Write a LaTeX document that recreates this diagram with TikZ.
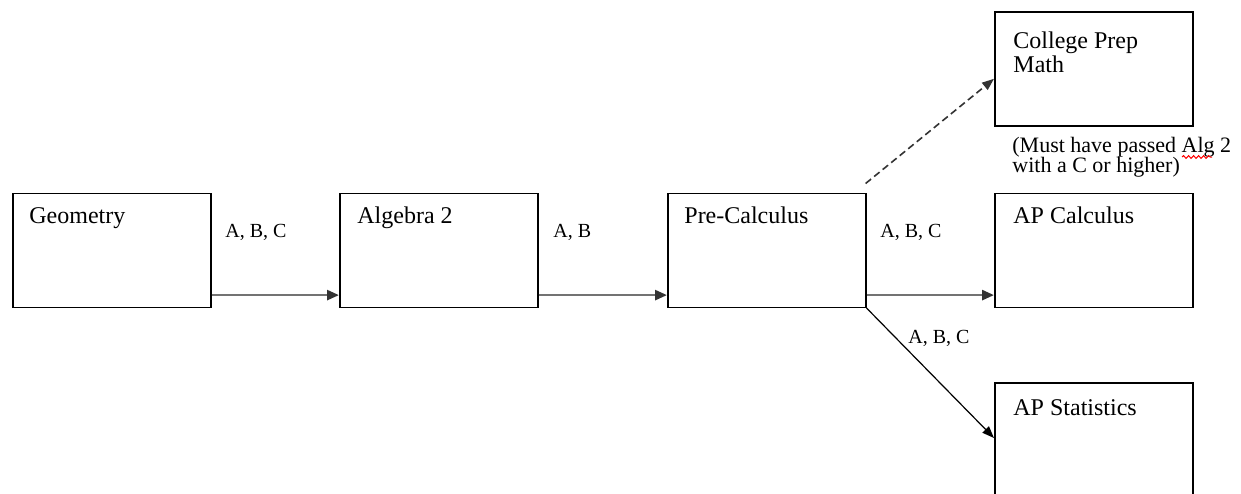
\documentclass[tikz,border=0pt]{standalone}
\usepackage{fontspec}
\setmainfont{Liberation Serif}
\usetikzlibrary{arrows.meta,decorations.pathmorphing}
\begin{document}
\begin{tikzpicture}[x=0.5pt,y=-0.5pt,
  box/.style={draw=black,line width=0.8pt,minimum width=99pt,minimum height=57pt,anchor=north west,inner sep=0pt},
  boxtext/.style={anchor=base west,inner sep=0pt,font=\fontsize{12}{13}\selectfont},
  edgelabel/.style={anchor=base west,inner sep=0pt,font=\fontsize{10}{12}\selectfont},
  notetext/.style={anchor=base west,inner sep=0pt,font=\fontsize{11}{11}\selectfont},
  hflow/.style={draw=black!55,line width=1.3pt,-{Triangle[length=6pt,width=5pt,fill=black!80,color=black!80]}},
  dflow/.style={draw=black,line width=0.6pt,-{Triangle[length=6pt,width=4.5pt]}},
  dashflow/.style={draw=black!80,line width=0.8pt,dash pattern=on 3.5pt off 2pt,-{Triangle[length=6pt,width=4.5pt]}}
]
\clip (0,0) rectangle (1241,493);
\useasboundingbox (0,0) rectangle (1241,493);
\fill[white] (0,0) rectangle (1241,493);

% boxes
\node[box] (geo) at (12,192.5) {};
\node[box] (alg) at (339,192.5) {};
\node[box] (pre) at (667,192.5) {};
\node[box] (col) at (994,11) {};
\node[box] (apc) at (994,192.5) {};
\node[box,minimum height=80pt] (aps) at (994,382) {};

% box texts
\node[boxtext] (geot) at (29,223) {Geometry};
\node[boxtext] (algt) at (357,223) {Algebra 2};
\node[boxtext] (pret) at (684,223) {Pre-Calculus};
\node[boxtext] (colt) at (1013,48) {College Prep};
\node[boxtext] (colt2) at (1013,72) {Math};
\node[boxtext] (apct) at (1013,223) {AP Calculus};
\node[boxtext] (apst) at (1013,415) {AP Statistics};

% note
\node[notetext] (note1) at (1012,152) {(Must have passed Alg 2};
\node[notetext] (note2) at (1012,172) {with a C or higher)};
\draw[red,line width=0.5pt,decorate,decoration={snake,amplitude=0.7pt,segment length=2.5pt}] (1182,157) -- (1212,157);

% edge labels
\node[edgelabel] (l1) at (225,237) {A, B, C};
\node[edgelabel] (l2) at (553,237) {A, B};
\node[edgelabel] (l3) at (880,237) {A, B, C};
\node[edgelabel] (l4) at (908,343) {A, B, C};

% connectors
\draw[hflow] ([yshift=6.5pt]geo.south east) -- ([yshift=6.5pt]alg.south west);
\draw[hflow] ([yshift=6.5pt]alg.south east) -- ([yshift=6.5pt]pre.south west);
\draw[hflow] ([yshift=6.5pt]pre.south east) -- ([yshift=6.5pt]apc.south west);
\draw[dashflow] ([xshift=-0.5pt,yshift=4.5pt]pre.north east) -- ([yshift=-5pt]col.west);
\draw[dflow] (pre.south east) -- ([yshift=-28pt]aps.north west);
\end{tikzpicture}
\end{document}
